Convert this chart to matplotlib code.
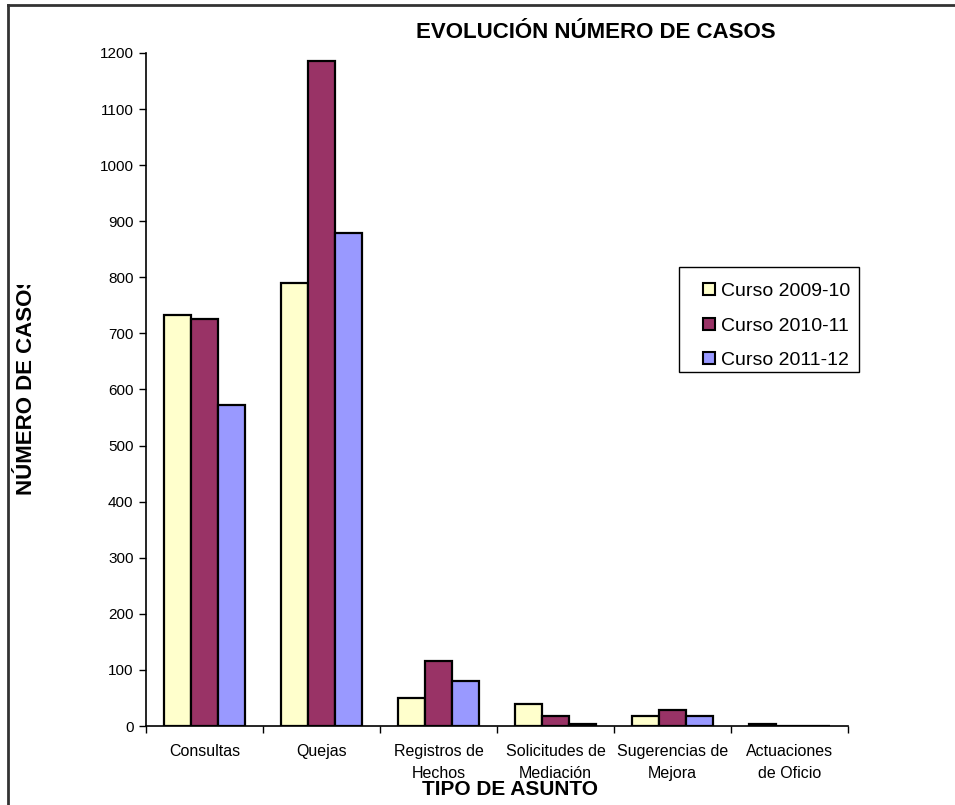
import matplotlib
matplotlib.use("Agg")
import matplotlib.pyplot as plt
import numpy as np
from matplotlib.patches import Patch, Rectangle
from matplotlib.lines import Line2D
from matplotlib.transforms import Bbox

# ---- data -------------------------------------------------------------
categories = [
    "Consultas",
    "Quejas",
    "Registros de\nHechos",
    "Solicitudes de\nMediación",
    "Sugerencias de\nMejora",
    "Actuaciones\nde Oficio",
]
series_names = ["Curso 2009-10", "Curso 2010-11", "Curso 2011-12"]
curso_2009_10 = [733, 790, 50, 39, 18, 4]
curso_2010_11 = [725, 1185, 116, 18, 28, 0]
curso_2011_12 = [572, 879, 80, 4, 18, 0]
y_ticks = list(range(0, 1201, 100))

title = "EVOLUCIÓN NÚMERO DE CASOS"
x_title = "TIPO DE ASUNTO"
y_title = "NÚMERO DE CASOS"

# ---- style ------------------------------------------------------------
colors = ["#FFFFCC", "#993366", "#9999FF"]
plt.rcParams["font.family"] = ["Liberation Sans", "DejaVu Sans"]

W, H = 955, 805
fig = plt.figure(figsize=(W / 100, H / 100), dpi=100)
fig.patch.set_facecolor("white")

# plot area in pixel terms (left, top, right, bottom)
L, T, R, B = 146, 53, 848, 726
ax = fig.add_axes([L / W, 1 - B / H, (R - L) / W, (B - T) / H])

series = [curso_2009_10, curso_2010_11, curso_2011_12]
n = len(categories)
x = np.arange(n) + 0.5
bar_w = 0.228
for k, (vals, col, name) in enumerate(zip(series, colors, series_names)):
    ax.bar(x + (k - 1) * bar_w, vals, width=bar_w, color=col,
           edgecolor="black", linewidth=1.6, label=name, zorder=3)

ax.set_xlim(0, n)
ax.set_ylim(0, 1200)
ax.set_yticks(y_ticks)
ax.set_yticklabels([str(v) for v in y_ticks], fontsize=11)

ax.set_xticks(np.arange(n + 1))
ax.set_xticklabels([""] * (n + 1))
ax.set_xticks(x, minor=True)
ax.set_xticklabels(categories, minor=True, fontsize=11.5, linespacing=1.55,
                   va="top")
ax.tick_params(axis="x", which="minor", length=0, pad=13)
ax.tick_params(axis="x", which="major", direction="out", length=5, width=1)
ax.tick_params(axis="y", direction="out", length=5, width=1, pad=4)

for s in ["top", "right"]:
    ax.spines[s].set_visible(False)
for s in ["left", "bottom"]:
    ax.spines[s].set_linewidth(1.2)
    ax.spines[s].set_color("black")

# titles
fig.text(596 / W, 1 - 33 / H, title, ha="center", va="center",
         fontsize=16, fontweight="bold")
fig.text(510 / W, 1 - 789 / H, x_title, ha="center", va="center",
         fontsize=15, fontweight="bold")
ylab = fig.text(26 / W, 1 - 495 / H, y_title, rotation=90,
                rotation_mode="anchor", ha="left", va="center",
                fontsize=16, fontweight="bold")
# the axis-title box is narrower than its text, so the end is cut off
ylab.set_clip_box(Bbox.from_extents(0, 0, W, H - 285))
ylab.set_clip_on(True)

# legend
handles = [Patch(facecolor=c, edgecolor="black", linewidth=1.5) for c in colors]
leg = fig.legend(handles, series_names, loc="upper left",
                 bbox_to_anchor=(703 / W, 1 - 283 / H),
                 bbox_transform=fig.transFigure, frameon=False,
                 fontsize=14, handlelength=0.6, handleheight=0.6,
                 handletextpad=0.35, labelspacing=0.9, borderpad=0,
                 borderaxespad=0)
fig.add_artist(Rectangle((679 / W, 1 - 372 / H), (859 - 679) / W,
                         (372 - 267) / H, transform=fig.transFigure,
                         facecolor="none", edgecolor="black", linewidth=1))

# outer chart border (top and left)
fig.add_artist(Line2D([8 / W, 8 / W], [0, 1 - 5 / H], transform=fig.transFigure,
                      color="#333333", linewidth=2))
fig.add_artist(Line2D([8 / W, 1], [1 - 5 / H, 1 - 5 / H],
                      transform=fig.transFigure, color="#333333", linewidth=2))

fig.savefig("out.png", dpi=100)
